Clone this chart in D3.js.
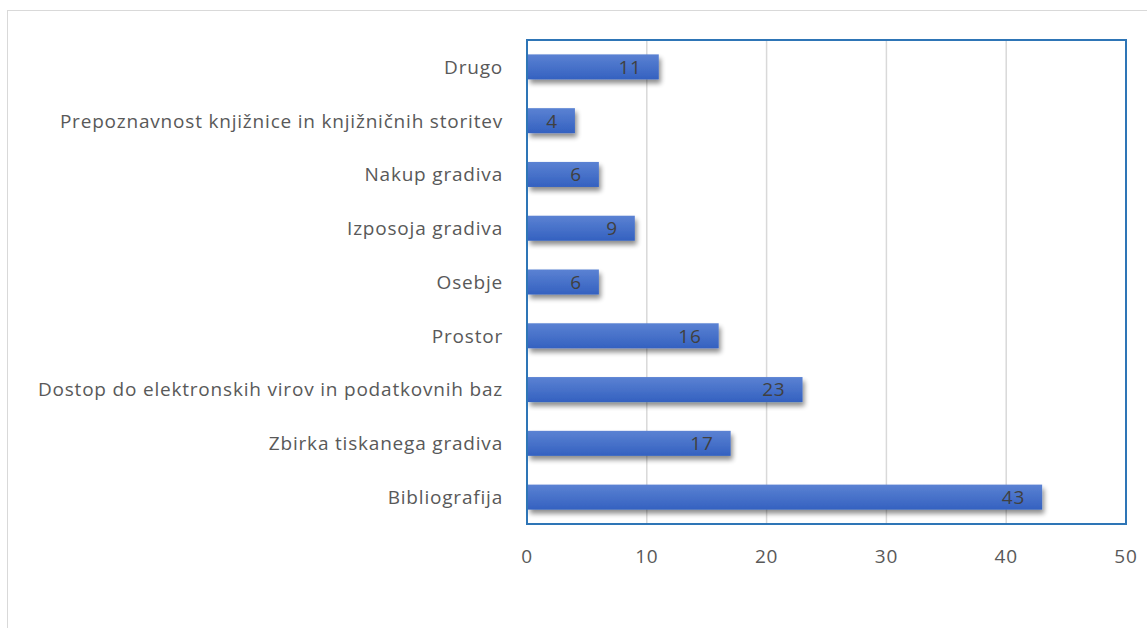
<!DOCTYPE html>
<html>
<head>
<meta charset="utf-8">
<script src="https://cdn.jsdelivr.net/npm/d3@7/dist/d3.min.js"></script>
<style>
  html, body { margin: 0; padding: 0; background: #fff; }
  svg { display: block; }
</style>
</head>
<body>
<svg id="chart" width="1147" height="628"></svg>
<script>
// Categories listed from top to bottom, with their counts
const categories = [
  "Drugo",
  "Prepoznavnost knjižnice in knjižničnih storitev",
  "Nakup gradiva",
  "Izposoja gradiva",
  "Osebje",
  "Prostor",
  "Dostop do elektronskih virov in podatkovnih baz",
  "Zbirka tiskanega gradiva",
  "Bibliografija"
];
const values = [11, 4, 6, 9, 6, 16, 23, 17, 43];
const xTicks = [0, 10, 20, 30, 40, 50];

const svg = d3.select("#chart");
const W = 1147, H = 628;
const plot = { left: 527, top: 40, right: 1126, bottom: 524 };
const font = "'Open Sans', 'DejaVu Sans', sans-serif";
const fontSize = 19;
const spacing = 0.8;

// outer chart frame
svg.append("rect")
  .attr("x", 7.5).attr("y", 10.5)
  .attr("width", W + 20).attr("height", H + 20)
  .attr("fill", "#fff").attr("stroke", "#d9d9d9").attr("stroke-width", 1);

const defs = svg.append("defs");
const grad = defs.append("linearGradient")
  .attr("id", "barFill").attr("x1", 0).attr("y1", 0).attr("x2", 0).attr("y2", 1);
grad.append("stop").attr("offset", "0%").attr("stop-color", "#5b82d3");
grad.append("stop").attr("offset", "100%").attr("stop-color", "#3461c0");

const shadow = defs.append("filter").attr("id", "barShadow")
  .attr("x", "-10%").attr("y", "-30%").attr("width", "130%").attr("height", "190%");
shadow.append("feGaussianBlur").attr("in", "SourceAlpha").attr("stdDeviation", 2.5).attr("result", "b");
shadow.append("feOffset").attr("in", "b").attr("dx", 2).attr("dy", 4).attr("result", "o");
shadow.append("feComponentTransfer").attr("in", "o").attr("result", "s")
  .append("feFuncA").attr("type", "linear").attr("slope", 0.45);
const merge = shadow.append("feMerge");
merge.append("feMergeNode").attr("in", "s");
merge.append("feMergeNode").attr("in", "SourceGraphic");

const x = d3.scaleLinear().domain([0, 50]).range([plot.left, plot.right]);
const y = d3.scaleBand().domain(categories).range([plot.top, plot.bottom]).paddingInner(0.535).paddingOuter(0.2675);

// vertical gridlines
svg.append("g")
  .selectAll("line")
  .data(xTicks.filter(t => t > 0 && t < 50))
  .join("line")
  .attr("x1", d => x(d)).attr("x2", d => x(d))
  .attr("y1", plot.top).attr("y2", plot.bottom)
  .attr("stroke", "#d9d9d9").attr("stroke-width", 1.5);

// category axis line
svg.append("line")
  .attr("x1", plot.left).attr("x2", plot.left)
  .attr("y1", plot.top).attr("y2", plot.bottom)
  .attr("stroke", "#bfbfbf").attr("stroke-width", 1.5);

// bars
svg.append("g")
  .selectAll("rect")
  .data(values)
  .join("rect")
  .attr("x", x(0) + 1)
  .attr("y", (d, i) => y(categories[i]))
  .attr("width", d => x(d) - x(0) - 1)
  .attr("height", y.bandwidth())
  .attr("fill", "url(#barFill)")
  .attr("filter", "url(#barShadow)");

// value labels inside the bar end
svg.append("g")
  .selectAll("text")
  .data(values)
  .join("text")
  .attr("x", d => x(d) - 17)
  .attr("y", (d, i) => y(categories[i]) + y.bandwidth() / 2)
  .attr("dy", "0.36em")
  .attr("text-anchor", "end")
  .attr("font-family", font).attr("font-size", fontSize)
  .attr("letter-spacing", spacing)
  .attr("fill", "#404040")
  .text(d => d);

// category labels
svg.append("g")
  .selectAll("text")
  .data(categories)
  .join("text")
  .attr("x", plot.left - 24)
  .attr("y", d => y(d) + y.bandwidth() / 2)
  .attr("dy", "0.36em")
  .attr("text-anchor", "end")
  .attr("font-family", font).attr("font-size", fontSize)
  .attr("letter-spacing", spacing)
  .attr("fill", "#595959")
  .text(d => d);

// value axis tick labels
svg.append("g")
  .selectAll("text")
  .data(xTicks)
  .join("text")
  .attr("x", d => x(d))
  .attr("y", 556)
  .attr("dy", "0.36em")
  .attr("text-anchor", "middle")
  .attr("font-family", font).attr("font-size", fontSize)
  .attr("letter-spacing", spacing)
  .attr("fill", "#595959")
  .text(d => d);

// plot area border
svg.append("rect")
  .attr("x", plot.left).attr("y", plot.top)
  .attr("width", plot.right - plot.left).attr("height", plot.bottom - plot.top)
  .attr("fill", "none").attr("stroke", "#2e75b6").attr("stroke-width", 2);
</script>
</body>
</html>
